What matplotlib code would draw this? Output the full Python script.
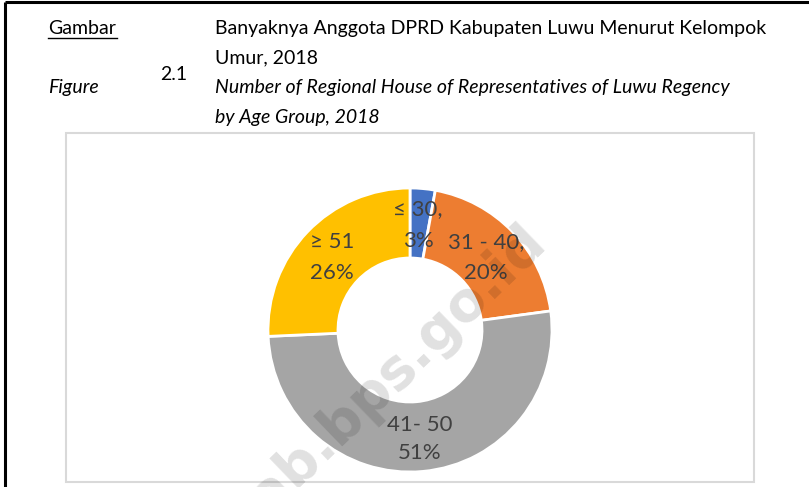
import matplotlib
matplotlib.use("Agg")
import matplotlib.pyplot as plt
from matplotlib.patches import Rectangle

# ── Data ────────────────────────────────────────────────────────────────────
groups  = ["≤ 30,", "31 - 40,", "41- 50", "≥ 51"]
members = [1, 7, 18, 9]            # 35 DPRD members in total
pct_txt = ["3%", "20%", "51%", "26%"]
colors  = ["#4472C4", "#ED7D31", "#A5A5A5", "#FFC000"]

W, H = 809, 487
FONT = "Lato"
TXT  = "#404040"


def y(px):
    # image y (from top) -> data y (from bottom)
    return H - px


fig = plt.figure(figsize=(W / 100, H / 100), dpi=100)
ax = fig.add_axes([0, 0, 1, 1])

# ── Page borders ────────────────────────────────────────────────────────────
ax.plot([5, W], [y(2), y(2)], color="black", lw=2.2, solid_capstyle="butt")
ax.plot([5, 5], [y(2), 0], color="black", lw=2.2, solid_capstyle="butt")

# chart box (cut by bottom of page)
ax.add_patch(Rectangle((66, y(482)), 754 - 66, 482 - 133, fill=False,
                       edgecolor="#d9d9d9", lw=1.5))

# ── Header ──────────────────────────────────────────────────────────────────
hs = 14.0
ax.text(48, y(34), "Gambar", fontsize=hs, family=FONT, color="black")
ax.plot([48, 117], [y(38), y(38)], color="black", lw=1)
ax.text(215, y(34), "Banyaknya Anggota DPRD Kabupaten Luwu Menurut Kelompok",
        fontsize=hs, family=FONT, color="black")
ax.text(215, y(63), "Umur, 2018", fontsize=hs, family=FONT, color="black")
ax.text(160, y(80), "2.1", fontsize=hs, family=FONT, color="black")
ax.text(48, y(93), "Figure", fontsize=hs, family=FONT, style="italic", color="black")
ax.text(215, y(93), "Number of Regional House of Representatives of Luwu Regency",
        fontsize=hs, family=FONT, style="italic", color="black")
ax.text(215, y(123), "by Age Group, 2018", fontsize=hs, family=FONT,
        style="italic", color="black")

# ── Donut ───────────────────────────────────────────────────────────────────
cx, cy, r = 410, y(330), 142
ax.pie(members, colors=colors, startangle=90, counterclock=False,
       center=(cx, cy), radius=r, frame=True,
       wedgeprops=dict(width=70, edgecolor="white", linewidth=2))
ax.set_xlim(0, W)
ax.set_ylim(0, H)
ax.set_aspect("equal")
ax.axis("off")

# data labels (positions as in the original, Excel best fit)
label_pos = [(418, 209, 241), (486, 242, 273), (420, 425, 453), (332, 242, 273)]
for g, p, (lx, ly1, ly2) in zip(groups, pct_txt, label_pos):
    ax.text(lx, y(ly1), g, fontsize=16, family=FONT, color=TXT,
            ha="center", va="center")
    ax.text(lx, y(ly2), p, fontsize=16, family=FONT, color=TXT,
            ha="center", va="center")

# watermark
ax.text(330, y(433), "luwukab.bps.go.id", fontsize=40, family="DejaVu Sans",
        weight="bold", color="black", alpha=0.12, rotation=44,
        ha="center", va="center", rotation_mode="anchor")

fig.savefig("out.png", dpi=100)
